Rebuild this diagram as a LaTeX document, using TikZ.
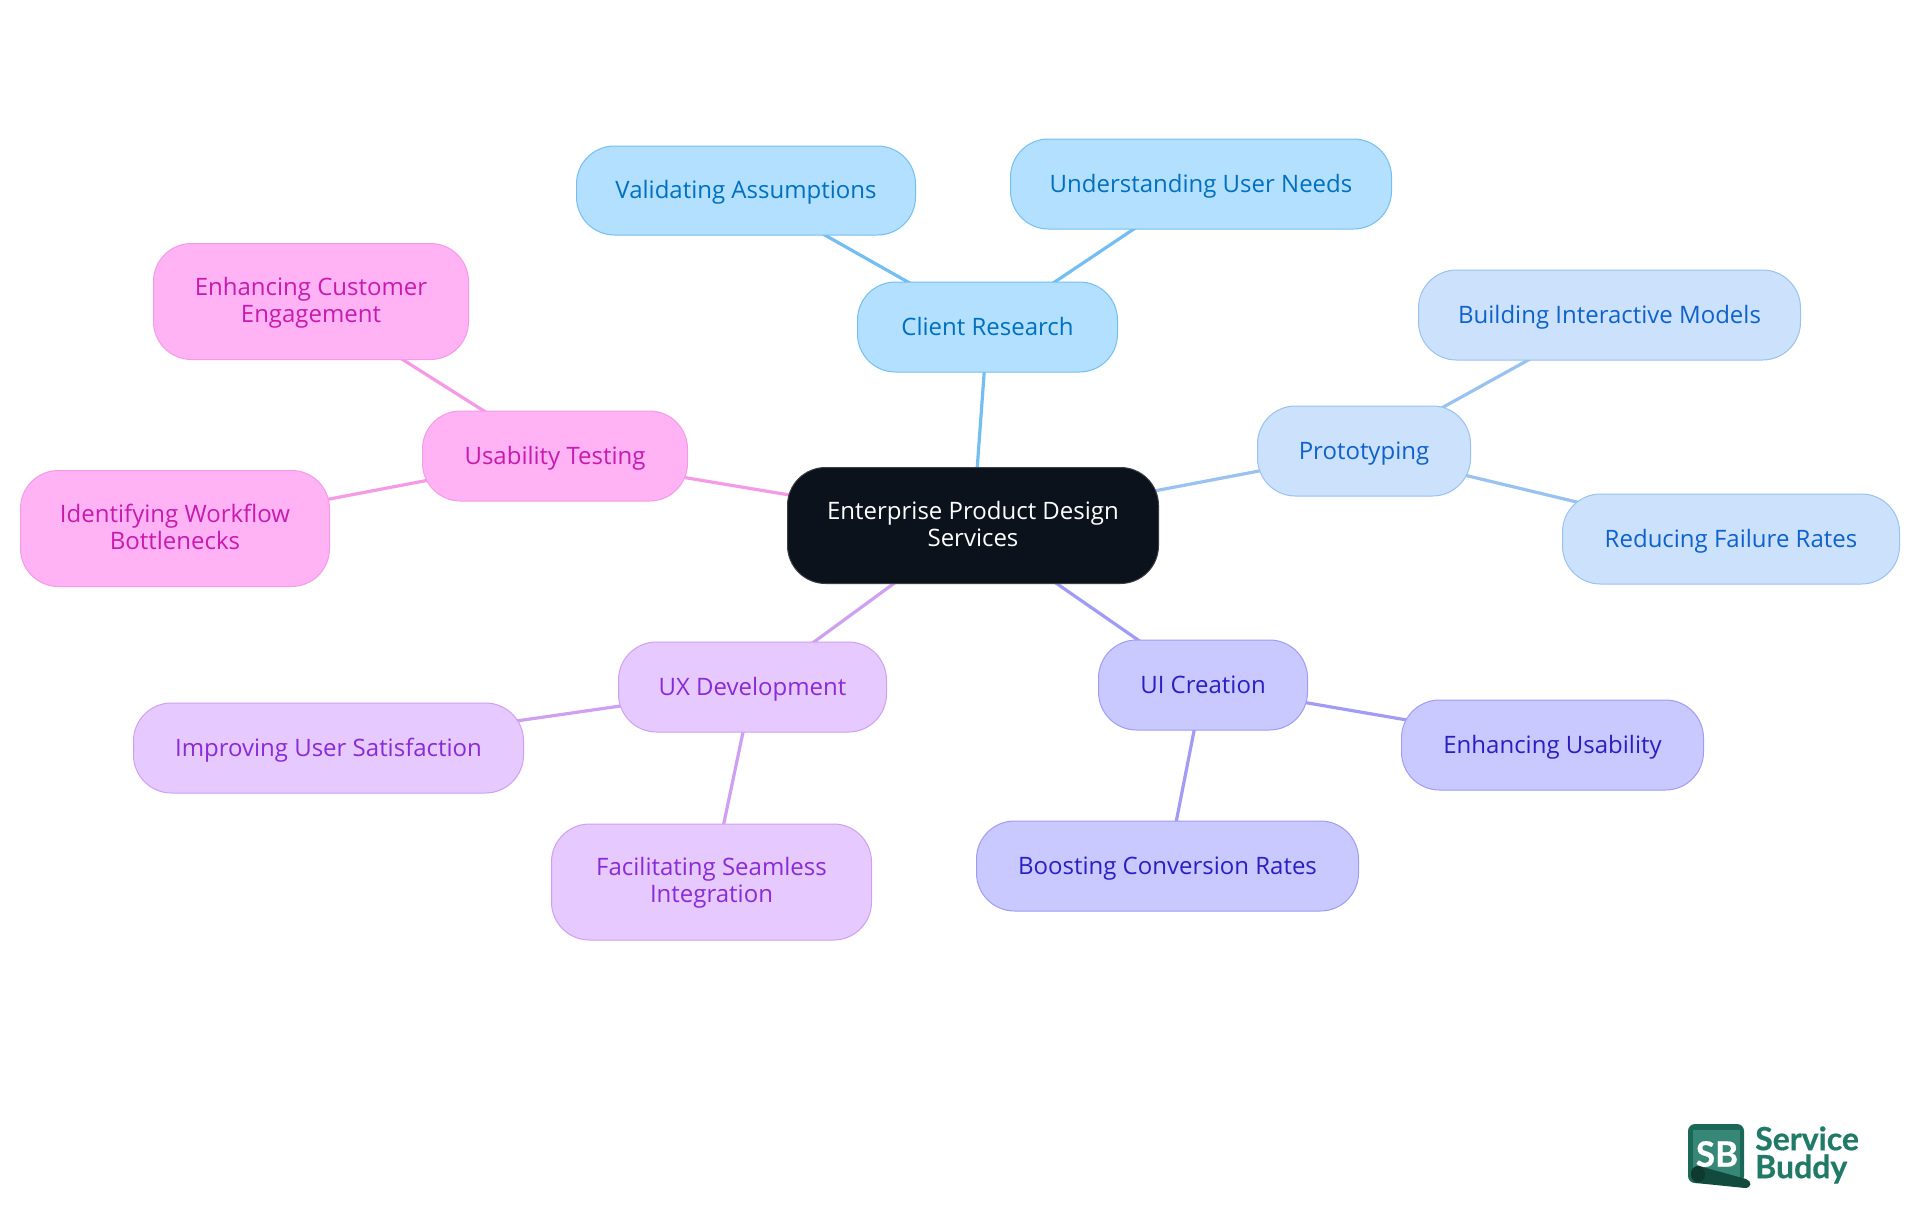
\documentclass[tikz,border=0pt]{standalone}
\usepackage{fontspec}
\setmainfont{Open Sans}
\newfontfamily\logofont[BoldFeatures={FakeBold=0.6}]{Lato}
\definecolor{cenfill}{HTML}{0B121B}\definecolor{cenline}{HTML}{3A3F45}
\definecolor{cfill}{HTML}{B3E0FF}\definecolor{cline}{HTML}{75BEF2}\definecolor{ctext}{HTML}{0070C0}
\definecolor{pfill}{HTML}{CCE2FC}\definecolor{pline}{HTML}{99C2F0}\definecolor{ptext}{HTML}{0F62CC}
\definecolor{ufill}{HTML}{C9C9FF}\definecolor{uline}{HTML}{A09CF5}\definecolor{utext}{HTML}{2A1FC2}
\definecolor{xfill}{HTML}{E6C9FF}\definecolor{xline}{HTML}{CFA0F2}\definecolor{xtext}{HTML}{8A2BD6}
\definecolor{tfill}{HTML}{FFB3F5}\definecolor{tline}{HTML}{F59AE6}\definecolor{ttext}{HTML}{C71BAE}
\definecolor{logo}{HTML}{217A68}\definecolor{logodark}{HTML}{124A3E}\definecolor{logoend}{HTML}{0E3A30}
\newcommand{\mmstrut}{\vrule height 23pt depth 7pt width 0pt\relax}
\newcommand{\mmstruttwo}{\vrule height 48pt depth 7pt width 0pt\relax}
\pgfdeclarelayer{paper}\pgfdeclarelayer{bg}\pgfsetlayers{paper,bg,main}
\tikzset{
  mm/.style={rectangle,rounded corners=38pt,line width=1pt,align=center,inner sep=0pt,
    font=\fontsize{24}{27}\selectfont,
    execute at begin node=\mmstrut,execute at end node=\mmstrut},
  two/.style={execute at begin node=\mmstruttwo},
  cennode/.style={mm,fill=cenfill,draw=cenline,text=white},
  cnode/.style={mm,fill=cfill,draw=cline,text=ctext},
  pnode/.style={mm,fill=pfill,draw=pline,text=ptext},
  unode/.style={mm,fill=ufill,draw=uline,text=utext},
  xnode/.style={mm,fill=xfill,draw=xline,text=xtext},
  tnode/.style={mm,fill=tfill,draw=tline,text=ttext},
  edge/.style={line width=3.2pt},
}
\begin{document}
\begin{tikzpicture}[x=1pt,y=-1pt]
\useasboundingbox (0,0) rectangle (1920,1215);
\begin{pgfonlayer}{paper}
\fill[white] (0,0) rectangle (1920,1215);
\end{pgfonlayer}
\node[cennode,two,minimum width=371pt,minimum height=116pt] (center) at (973,525.5) {Enterprise Product Design\\Services};
\node[cnode,minimum width=260pt,minimum height=90pt] (client) at (987.5,327) {Client Research};
\node[cnode,minimum width=339pt,minimum height=89pt] (valid) at (746,190.5) {Validating Assumptions};
\node[cnode,minimum width=381pt,minimum height=90pt] (under) at (1201,184) {Understanding User Needs};
\node[pnode,minimum width=213pt,minimum height=90pt] (proto) at (1364,451) {Prototyping};
\node[pnode,minimum width=382pt,minimum height=90pt] (build) at (1609.5,315) {Building Interactive Models};
\node[pnode,minimum width=337pt,minimum height=90pt] (reduce) at (1731,539) {Reducing Failure Rates};
\node[unode,minimum width=209pt,minimum height=90pt] (ui) at (1203,685) {UI Creation};
\node[unode,minimum width=302pt,minimum height=90pt] (usab) at (1552.5,745) {Enhancing Usability};
\node[unode,minimum width=382pt,minimum height=90pt] (boost) at (1167.5,866) {Boosting Conversion Rates};
\node[xnode,minimum width=268pt,minimum height=90pt] (ux) at (752.5,687) {UX Development};
\node[xnode,minimum width=390pt,minimum height=90pt] (improve) at (328.5,748) {Improving User Satisfaction};
\node[xnode,two,minimum width=320pt,minimum height=116pt] (facil) at (711.5,882) {Facilitating Seamless\\Integration};
\node[tnode,minimum width=265pt,minimum height=90pt] (test) at (555,456) {Usability Testing};
\node[tnode,two,minimum width=315pt,minimum height=116pt] (engage) at (311,301.5) {Enhancing Customer\\Engagement};
\node[tnode,two,minimum width=309pt,minimum height=116pt] (bottle) at (175,528.5) {Identifying Workflow\\Bottlenecks};
\begin{pgfonlayer}{bg}
\draw[edge,cline] (center.center) -- (client.center);
\draw[edge,cline] (client.center) -- (valid.center);
\draw[edge,cline] (client.center) -- (under.center);
\draw[edge,pline] (center.center) -- (proto.center);
\draw[edge,pline] (proto.center) -- (build.center);
\draw[edge,pline] (proto.center) -- (reduce.center);
\draw[edge,uline] (center.center) -- (ui.center);
\draw[edge,uline] (ui.center) -- (usab.center);
\draw[edge,uline] (ui.center) -- (boost.center);
\draw[edge,xline] (center.center) -- (ux.center);
\draw[edge,xline] (ux.center) -- (improve.center);
\draw[edge,xline] (ux.center) -- (facil.center);
\draw[edge,tline] (center.center) -- (test.center);
\draw[edge,tline] (test.center) -- (engage.center);
\draw[edge,tline] (test.center) -- (bottle.center);
\end{pgfonlayer}
% logo
\fill[logo!85!black,rounded corners=7pt] (1688,1124) rectangle (1744,1183);
\fill[logo!90!white] (1693,1130) rectangle (1740,1177);
\node[font=\logofont\bfseries\fontsize{35}{35}\selectfont,text=white,inner sep=0pt] (sb) at (1717,1154) {SB};
\fill[logodark] (1699,1166) .. controls (1689,1166) and (1689,1180) .. (1696,1183) -- (1745,1188) .. controls (1752,1188) and (1752,1181) .. (1746,1179) -- cycle;
\fill[logoend,rotate around={10:(1698,1174)}] (1698,1174) ellipse (7pt and 8pt);
\node[font=\logofont\bfseries\fontsize{32}{28}\selectfont,text=logo,align=left,inner sep=0pt,anchor=west] (brand) at (1755,1155) {Service\\Buddy};
\end{tikzpicture}
\end{document}
